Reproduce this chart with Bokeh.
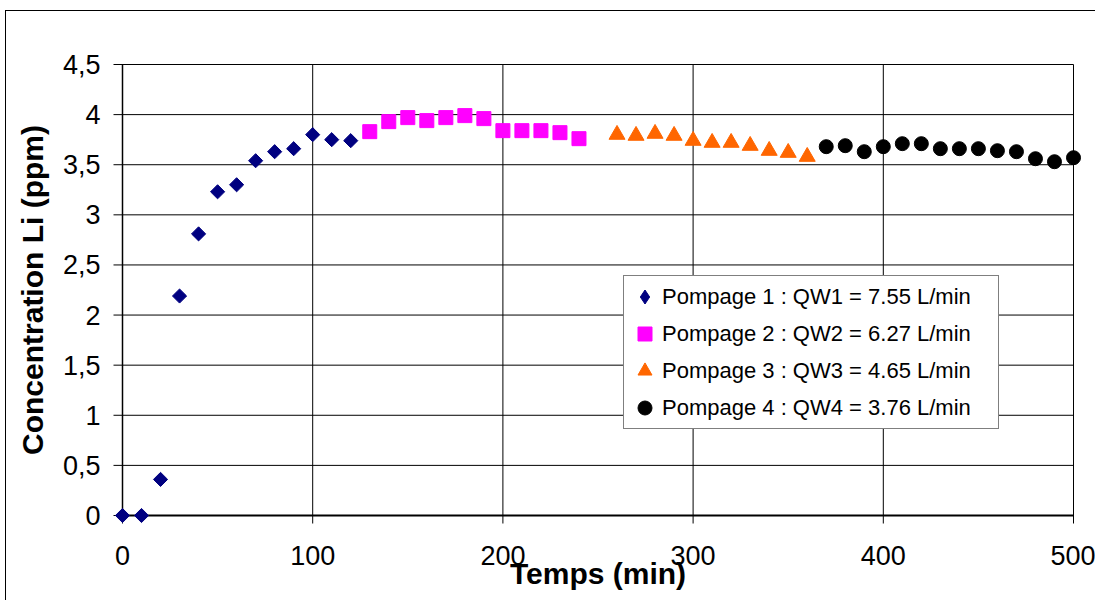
import math
from bokeh.plotting import figure
from bokeh.models import (ColumnDataSource, Range1d, FixedTicker,
                          CustomJSTickFormatter, Legend, LegendItem)
from bokeh.embed import file_html
from bokeh.resources import INLINE

# ---------------- data ----------------
pompage1_t = [0, 10, 20, 30, 40, 50, 60, 70, 80, 90, 100, 110, 120]
pompage1_li = [0.00, 0.00, 0.36, 2.19, 2.81, 3.23, 3.30, 3.54, 3.63, 3.66, 3.80, 3.75, 3.74]

pompage2_t = [130, 140, 150, 160, 170, 180, 190, 200, 210, 220, 230, 240]
pompage2_li = [3.83, 3.93, 3.97, 3.94, 3.97, 3.99, 3.96, 3.84, 3.84, 3.84, 3.82, 3.76]

pompage3_t = [260, 270, 280, 290, 300, 310, 320, 330, 340, 350, 360]
pompage3_li = [3.80, 3.79, 3.81, 3.79, 3.74, 3.72, 3.72, 3.69, 3.64, 3.62, 3.58]

pompage4_t = [370, 380, 390, 400, 410, 420, 430, 440, 450, 460, 470, 480, 490, 500]
pompage4_li = [3.68, 3.69, 3.63, 3.68, 3.71, 3.71, 3.66, 3.66, 3.66, 3.64, 3.63, 3.56, 3.53, 3.57]

series_labels = [
    "Pompage 1 : QW1 = 7.55 L/min",
    "Pompage 2 : QW2 = 6.27 L/min",
    "Pompage 3 : QW3 = 4.65 L/min",
    "Pompage 4 : QW4 = 3.76 L/min",
]
x_ticks = [0, 100, 200, 300, 400, 500]
y_ticks = [0, 0.5, 1, 1.5, 2, 2.5, 3, 3.5, 4, 4.5]
x_title = "Temps (min)"
y_title = "Concentration Li (ppm)"

# ---------------- layout ----------------
W, H = 1090, 590
ML, MR, MT, MB = 106, 13, 43, 76
PAD = 10  # px between data limits and frame edge (so edge markers are not clipped)
frame_w = W - ML - MR
frame_h = H - MT - MB
x_lo, x_hi = x_ticks[0], x_ticks[-1]
y_lo, y_hi = y_ticks[0], y_ticks[-1]
xs = (frame_w - 2 * PAD) / (x_hi - x_lo)
ys = (frame_h - 2 * PAD) / (y_hi - y_lo)

FONT = "Liberation Sans"
NAVY = "#000080"
MAGENTA = "#FF00FF"
ORANGE = "#FF6600"
BLACK = "#000000"

p = figure(width=W, height=H,
           x_range=Range1d(x_lo - PAD / xs, x_hi + PAD / xs),
           y_range=Range1d(y_lo - PAD / ys, y_hi + PAD / ys),
           output_backend="svg", toolbar_location=None,
           min_border_left=ML, min_border_right=MR,
           min_border_top=MT, min_border_bottom=MB)
p.styles = {"border-left": "1px solid #000000", "border-top": "1px solid #000000",
            "position": "relative", "left": "5px", "top": "10px"}
p.background_fill_color = "white"
p.border_fill_color = "white"
p.outline_line_color = None
p.grid.visible = False

fmt = CustomJSTickFormatter(code="return tick.toString().replace('.', ',');")
for ax in (p.xaxis[0], p.yaxis[0]):
    ax.axis_line_color = None
    ax.major_tick_line_color = None
    ax.minor_tick_line_color = None
    ax.major_tick_out = 0
    ax.major_tick_in = 0
    ax.minor_tick_out = 0
    ax.minor_tick_in = 0
    ax.formatter = fmt
    ax.major_label_text_font = FONT
    ax.major_label_text_font_size = "27px"
    ax.major_label_text_color = BLACK
    ax.axis_label_text_font = FONT
    ax.axis_label_text_font_size = "30px"
    ax.axis_label_text_font_style = "bold"
    ax.axis_label_text_color = BLACK

p.xaxis.ticker = FixedTicker(ticks=x_ticks)
p.yaxis.ticker = FixedTicker(ticks=y_ticks)
p.xaxis.axis_label = x_title
p.yaxis.axis_label = y_title
p.yaxis.major_label_standoff = 12
p.yaxis.axis_label_standoff = 11
p.xaxis.major_label_standoff = 20
p.xaxis.axis_label_standoff = -11

# grid lines (with outward tick marks)
tick_x = 9 / xs
tick_y = 8 / ys
hsrc = ColumnDataSource(dict(x0=[x_lo - tick_x] * len(y_ticks),
                             x1=[x_hi] * len(y_ticks), y=y_ticks))
p.segment(x0="x0", y0="y", x1="x1", y1="y", source=hsrc,
          line_color=BLACK, line_width=1)
vsrc = ColumnDataSource(dict(x=x_ticks, y0=[y_lo - tick_y] * len(x_ticks),
                             y1=[y_hi] * len(x_ticks)))
p.segment(x0="x", y0="y0", x1="x", y1="y1", source=vsrc,
          line_color=BLACK, line_width=1)
# axis lines
p.segment(x0=[x_lo], y0=[y_lo], x1=[x_lo], y1=[y_hi], line_color=BLACK, line_width=1.5)
p.segment(x0=[x_lo], y0=[y_lo], x1=[x_hi], y1=[y_lo], line_color=BLACK, line_width=2)

# series
r1 = p.scatter(pompage1_t, pompage1_li, marker="square", angle=math.pi / 4, size=10,
               fill_color=NAVY, line_color=NAVY)
# legend-only glyph (diamond shape for the legend key, nothing drawn in the plot)
r1_leg = p.scatter(x=[float("nan")], y=[float("nan")], marker="diamond", size=14,
                   fill_color=NAVY, line_color=NAVY)
r2 = p.scatter(pompage2_t, pompage2_li, marker="square", size=14,
               fill_color=MAGENTA, line_color=MAGENTA)
r3 = p.scatter(pompage3_t, pompage3_li, marker="triangle", size=16,
               fill_color=ORANGE, line_color=ORANGE)
r4 = p.scatter(pompage4_t, pompage4_li, marker="circle", size=14,
               fill_color=BLACK, line_color=BLACK)

legend = Legend(items=[
    LegendItem(label=series_labels[0], renderers=[r1_leg]),
    LegendItem(label=series_labels[1], renderers=[r2]),
    LegendItem(label=series_labels[2], renderers=[r3]),
    LegendItem(label=series_labels[3], renderers=[r4]),
], location=(511, 96))
legend.label_text_font = FONT
legend.label_text_font_size = "22px"
legend.label_text_color = BLACK
legend.glyph_width = 35
legend.glyph_height = 35
legend.label_height = 35
legend.label_width = 333
legend.label_standoff = 0
legend.spacing = 2
legend.padding = 3
legend.border_line_color = BLACK
legend.border_line_width = 1
legend.background_fill_color = "white"
legend.background_fill_alpha = 1.0
p.add_layout(legend)

open("out.html", "w").write(file_html(p, INLINE))
